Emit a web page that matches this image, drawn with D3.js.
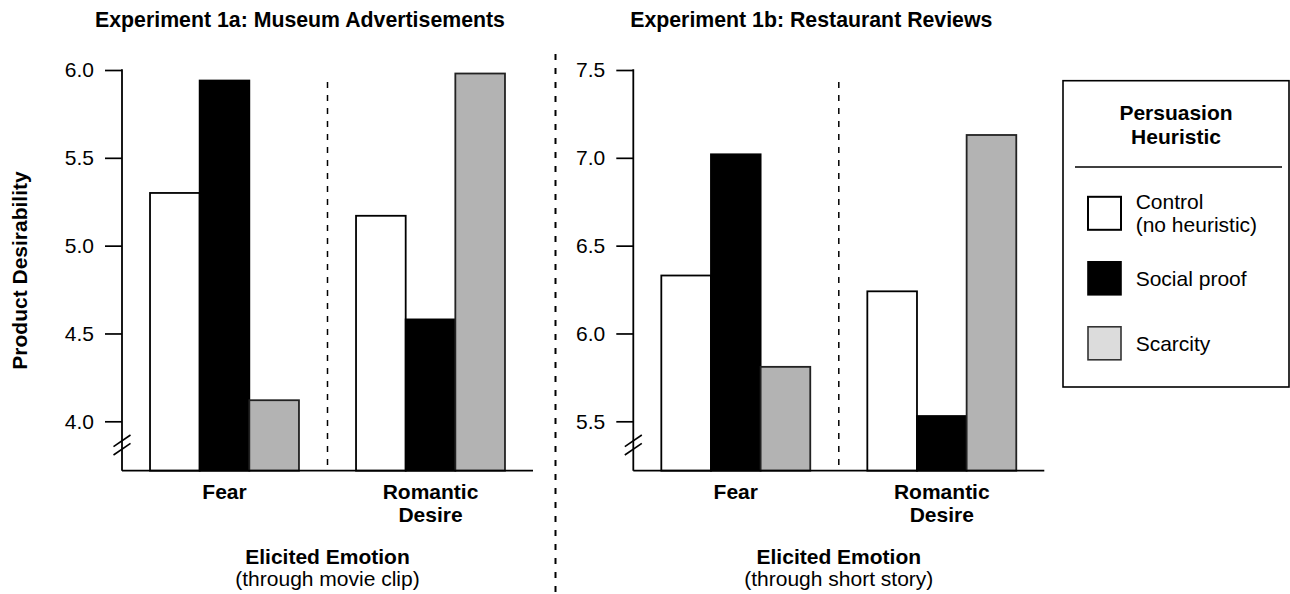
<!DOCTYPE html>
<html>
<head>
<meta charset="utf-8">
<script src="https://cdn.jsdelivr.net/npm/d3@7"></script>
<style>
  html, body { margin: 0; padding: 0; background: #fff; }
</style>
</head>
<body>
<div id="chart"></div>
<script>
// values
const groups = ["Fear", "Romantic Desire"];
const series = ["Control", "Social proof", "Scarcity"];
const panelTitles = ["Experiment 1a: Museum Advertisements", "Experiment 1b: Restaurant Reviews"];
const subLabels = ["(through movie clip)", "(through short story)"];
const museumValues = [[5.30, 5.94, 4.12], [5.17, 4.58, 5.98]];
const restaurantValues = [[6.33, 7.02, 5.81], [6.24, 5.53, 7.13]];
const museumTicks = [4.0, 4.5, 5.0, 5.5, 6.0];
const restaurantTicks = [5.5, 6.0, 6.5, 7.0, 7.5];
const legendLabels = [["Control", "(no heuristic)"], ["Social proof"], ["Scarcity"]];

const FONT = "'Liberation Sans', Arial, Helvetica, sans-serif";
const FS = 21;
const barFill = { "Control": "#ffffff", "Social proof": "#000000", "Scarcity": "#b3b3b3" };
const barStroke = { "Control": "#000000", "Social proof": "#000000", "Scarcity": "#222222" };
const legendFill = { "Control": "#ffffff", "Social proof": "#000000", "Scarcity": "#dcdcdc" };

const plotW = 411, plotTop = 70, tickBottom = 421.3, base = 470.7;

const svg = d3.select("#chart").append("svg")
    .attr("width", 1290)
    .attr("height", 594)
    .style("font-family", FONT);

const panels = [
    { title: panelTitles[0], sub: subLabels[0], values: museumValues, ticks: museumTicks, x0: 122 },
    { title: panelTitles[1], sub: subLabels[1], values: restaurantValues, ticks: restaurantTicks, x0: 633.3 }
];

panels.forEach(drawPanel);

function drawPanel(p) {
    const g = svg.append("g");

    const x = d3.scaleBand()
        .domain(groups)
        .range([p.x0, p.x0 + plotW])
        .paddingInner(0.277)
        .paddingOuter(0.136);

    const xs = d3.scaleBand()
        .domain(series)
        .range([0, x.bandwidth()]);

    const y = d3.scaleLinear()
        .domain([p.ticks[0], p.ticks[p.ticks.length - 1]])
        .range([tickBottom, plotTop]);

    // dashed line between the two emotions
    const mid = (x(groups[0]) + x.bandwidth() + x(groups[1])) / 2;
    g.append("line")
        .attr("x1", mid).attr("x2", mid)
        .attr("y1", 82).attr("y2", base)
        .attr("stroke", "#000")
        .attr("stroke-width", 1.5)
        .attr("stroke-dasharray", "6,7");

    // bars
    groups.forEach((grp, gi) => {
        g.selectAll(null)
            .data(p.values[gi].map((v, si) => ({ v: v, s: series[si] })))
            .join("rect")
            .attr("x", d => x(grp) + xs(d.s))
            .attr("y", d => y(d.v))
            .attr("width", xs.bandwidth())
            .attr("height", d => base - y(d.v))
            .attr("fill", d => barFill[d.s])
            .attr("stroke", d => barStroke[d.s])
            .attr("stroke-width", 1.8);
    });

    // y axis
    const axis = d3.axisLeft(y)
        .tickValues(p.ticks)
        .tickSize(17)
        .tickPadding(11)
        .tickFormat(d3.format(".1f"));

    const ag = g.append("g")
        .attr("transform", `translate(${p.x0},0)`)
        .call(axis)
        .attr("font-size", FS)
        .attr("font-family", FONT);
    ag.select(".domain").remove();
    ag.selectAll(".tick line").attr("stroke", "#000").attr("stroke-width", 1.7);
    ag.selectAll(".tick text").attr("fill", "#000");

    g.append("line")
        .attr("x1", p.x0).attr("x2", p.x0)
        .attr("y1", plotTop - 0.8).attr("y2", base)
        .attr("stroke", "#000").attr("stroke-width", 1.8);

    g.append("line")
        .attr("x1", p.x0).attr("x2", p.x0 + plotW)
        .attr("y1", base).attr("y2", base)
        .attr("stroke", "#000").attr("stroke-width", 1.8);

    // axis break marks
    [0, 8.3].forEach(off => {
        g.append("line")
            .attr("x1", p.x0 - 8.5).attr("y1", 446.7 + off)
            .attr("x2", p.x0 + 8.5).attr("y2", 435 + off)
            .attr("stroke", "#000").attr("stroke-width", 1.6);
    });

    // category labels
    groups.forEach(grp => {
        const words = grp.split(" ");
        const t = g.append("text")
            .attr("x", x(grp) + x.bandwidth() / 2)
            .attr("y", 499)
            .attr("text-anchor", "middle")
            .attr("font-size", FS)
            .attr("font-weight", "bold");
        words.forEach((w, i) => {
            t.append("tspan")
                .attr("x", x(grp) + x.bandwidth() / 2)
                .attr("dy", i === 0 ? 0 : 23)
                .text(w);
        });
    });

    g.append("text")
        .attr("x", mid).attr("y", 563.5)
        .attr("text-anchor", "middle")
        .attr("font-size", FS)
        .attr("font-weight", "bold")
        .text("Elicited Emotion");

    g.append("text")
        .attr("x", mid).attr("y", 586)
        .attr("text-anchor", "middle")
        .attr("font-size", FS)
        .text(p.sub);

    g.append("text")
        .attr("x", p.x0 + 178).attr("y", 26.5)
        .attr("text-anchor", "middle")
        .attr("font-size", 21.3)
        .attr("font-weight", "bold")
        .text(p.title);
}

// y axis title
svg.append("text")
    .attr("transform", "translate(26.5,270.5) rotate(-90)")
    .attr("text-anchor", "middle")
    .attr("font-size", FS)
    .attr("font-weight", "bold")
    .text("Product Desirability");

// divider between experiments
svg.append("line")
    .attr("x1", 555.5).attr("x2", 555.5)
    .attr("y1", 54).attr("y2", 594)
    .attr("stroke", "#000")
    .attr("stroke-width", 2)
    .attr("stroke-dasharray", "6,8");

// legend
const lg = svg.append("g");
lg.append("rect")
    .attr("x", 1063).attr("y", 80.7)
    .attr("width", 226).attr("height", 306.3)
    .attr("fill", "none")
    .attr("stroke", "#000")
    .attr("stroke-width", 1.6);

lg.append("text")
    .attr("x", 1176).attr("y", 120)
    .attr("text-anchor", "middle")
    .attr("font-size", FS)
    .attr("font-weight", "bold")
    .text("Persuasion");
lg.append("text")
    .attr("x", 1176).attr("y", 144)
    .attr("text-anchor", "middle")
    .attr("font-size", FS)
    .attr("font-weight", "bold")
    .text("Heuristic");

lg.append("line")
    .attr("x1", 1075).attr("x2", 1282)
    .attr("y1", 167).attr("y2", 167)
    .attr("stroke", "#000").attr("stroke-width", 1.6);

const ly = d3.scalePoint()
    .domain(series)
    .range([213.3, 343.3]);

series.forEach((s, i) => {
    lg.append("rect")
        .attr("x", 1088).attr("y", ly(s) - 16.5)
        .attr("width", 33).attr("height", 33)
        .attr("fill", legendFill[s])
        .attr("stroke", s === "Scarcity" ? "#333" : "#000")
        .attr("stroke-width", s === "Control" ? 2 : 1.6);

    const lines = legendLabels[i];
    const t = lg.append("text")
        .attr("font-size", FS)
        .attr("x", 1135.7);
    lines.forEach((ln, j) => {
        t.append("tspan")
            .attr("x", 1135.7)
            .attr("y", ly(s) + 7.5 + (j - (lines.length - 1) / 2) * 23)
            .text(ln);
    });
});
</script>
</body>
</html>
